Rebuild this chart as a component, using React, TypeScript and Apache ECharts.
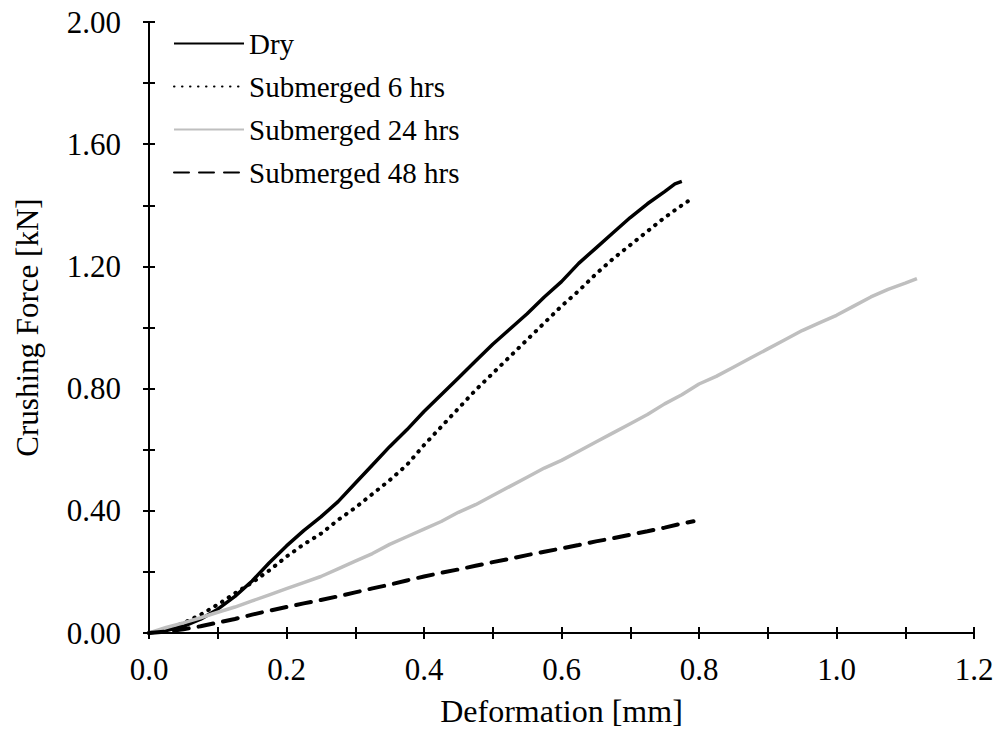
import React, { useEffect, useRef } from "react";
import * as echarts from "echarts";

const dryX = [0, 0.025, 0.05, 0.075, 0.1, 0.125, 0.15, 0.175, 0.2, 0.225, 0.25, 0.275, 0.3, 0.325, 0.35, 0.375, 0.4, 0.425, 0.45, 0.475, 0.5, 0.525, 0.55, 0.575, 0.6, 0.625, 0.65, 0.675, 0.7, 0.725, 0.75, 0.765, 0.775];
const dryY = [0, 0.008, 0.022, 0.045, 0.078, 0.12, 0.17, 0.23, 0.285, 0.335, 0.38, 0.43, 0.49, 0.55, 0.61, 0.665, 0.725, 0.78, 0.835, 0.89, 0.945, 0.995, 1.045, 1.1, 1.15, 1.21, 1.26, 1.31, 1.36, 1.405, 1.445, 1.47, 1.478];

const sub6X = [0, 0.025, 0.05, 0.075, 0.1, 0.125, 0.15, 0.175, 0.2, 0.225, 0.25, 0.275, 0.3, 0.325, 0.35, 0.375, 0.4, 0.425, 0.45, 0.475, 0.5, 0.525, 0.55, 0.575, 0.6, 0.625, 0.65, 0.675, 0.7, 0.725, 0.75, 0.775, 0.787];
const sub6Y = [0, 0.012, 0.032, 0.06, 0.093, 0.13, 0.165, 0.205, 0.25, 0.29, 0.325, 0.37, 0.41, 0.455, 0.5, 0.55, 0.615, 0.675, 0.735, 0.795, 0.85, 0.905, 0.96, 1.015, 1.07, 1.12, 1.175, 1.225, 1.27, 1.315, 1.36, 1.4, 1.418];

const sub24X = [0, 0.025, 0.05, 0.075, 0.1, 0.125, 0.15, 0.175, 0.2, 0.225, 0.25, 0.275, 0.3, 0.325, 0.35, 0.375, 0.4, 0.425, 0.45, 0.475, 0.5, 0.525, 0.55, 0.575, 0.6, 0.625, 0.65, 0.675, 0.7, 0.725, 0.75, 0.775, 0.8, 0.825, 0.85, 0.875, 0.9, 0.925, 0.95, 0.975, 1.0, 1.025, 1.05, 1.075, 1.1, 1.117];
const sub24Y = [0, 0.018, 0.033, 0.05, 0.068, 0.085, 0.105, 0.125, 0.145, 0.165, 0.185, 0.21, 0.235, 0.26, 0.29, 0.315, 0.34, 0.365, 0.395, 0.42, 0.45, 0.48, 0.51, 0.54, 0.565, 0.595, 0.625, 0.655, 0.685, 0.715, 0.75, 0.78, 0.815, 0.84, 0.87, 0.9, 0.93, 0.96, 0.99, 1.015, 1.04, 1.07, 1.1, 1.125, 1.145, 1.16];

const sub48X = [0, 0.025, 0.05, 0.075, 0.1, 0.125, 0.15, 0.175, 0.2, 0.225, 0.25, 0.275, 0.3, 0.325, 0.35, 0.375, 0.4, 0.425, 0.45, 0.475, 0.5, 0.525, 0.55, 0.575, 0.6, 0.625, 0.65, 0.675, 0.7, 0.725, 0.75, 0.775, 0.792];
const sub48Y = [0, 0.005, 0.012, 0.022, 0.034, 0.046, 0.06, 0.073, 0.085, 0.097, 0.108, 0.12, 0.133, 0.146, 0.158, 0.172, 0.185, 0.197, 0.208, 0.22, 0.232, 0.243, 0.255, 0.266, 0.277, 0.288, 0.3, 0.31, 0.322, 0.333, 0.345, 0.358, 0.366];

const seriesNames = ["Dry", "Submerged 6 hrs", "Submerged 24 hrs", "Submerged 48 hrs"];

const zip = (xs: number[], ys: number[]) => xs.map((x, i) => [x, ys[i]]);

const FONT = "Liberation Serif, Times New Roman, serif";

export default function App() {
  const ref = useRef<HTMLDivElement>(null);
  useEffect(() => {
    if (!ref.current) return;
    const chart = echarts.init(ref.current, undefined, { renderer: "svg" });
    const axisLine = { show: true, lineStyle: { color: "#000", width: 2 } };
    const tick = { show: true, inside: true, length: 6, lineStyle: { color: "#000", width: 2 } };
    const minor = { show: true, splitNumber: 2, length: 6, lineStyle: { color: "#000", width: 2 } };
    chart.setOption({
      animation: false,
      backgroundColor: "#fff",
      grid: { left: 149, right: 26, top: 22, bottom: 98, containLabel: false },
      legend: {
        orient: "vertical",
        left: 168,
        top: 24,
        itemWidth: 70,
        itemHeight: 14,
        itemGap: 14,
        data: seriesNames,
        itemStyle: { color: "rgba(0,0,0,0)", borderWidth: 0, opacity: 0 },
        textStyle: { fontFamily: FONT, fontSize: 29, color: "#000" },
      },
      xAxis: [
        {
          type: "value",
          min: 0,
          max: 1.2,
          interval: 0.2,
          name: "Deformation [mm]",
          nameLocation: "middle",
          nameGap: 62,
          nameTextStyle: { fontFamily: FONT, fontSize: 32, color: "#000" },
          axisLine,
          axisTick: tick,
          minorTick: minor,
          splitLine: { show: false },
          axisLabel: { fontFamily: FONT, fontSize: 31, color: "#000", margin: 21, formatter: (v: number) => v.toFixed(1) },
        },
        {
          type: "value",
          position: "top",
          min: 0,
          max: 1.2,
          interval: 0.2,
          axisLine,
          axisTick: tick,
          minorTick: minor,
          splitLine: { show: false },
          axisLabel: { show: false },
        },
      ],
      yAxis: [
        {
          type: "value",
          min: 0,
          max: 2,
          interval: 0.4,
          name: "Crushing Force [kN]",
          nameLocation: "middle",
          nameGap: 106,
          nameTextStyle: { fontFamily: FONT, fontSize: 31, color: "#000" },
          axisLine,
          axisTick: tick,
          minorTick: minor,
          splitLine: { show: false },
          axisLabel: { fontFamily: FONT, fontSize: 31, color: "#000", margin: 28, formatter: (v: number) => v.toFixed(2) },
        },
        {
          type: "value",
          position: "right",
          min: 0,
          max: 2,
          interval: 0.4,
          axisLine,
          axisTick: tick,
          minorTick: minor,
          splitLine: { show: false },
          axisLabel: { show: false },
        },
      ],
      series: [
        {
          name: seriesNames[0],
          type: "line",
          data: zip(dryX, dryY),
          showSymbol: false,
          symbol: "none",
          lineStyle: { color: "#000", width: 3.5 },
          itemStyle: { color: "#000" },
        },
        {
          name: seriesNames[1],
          type: "line",
          data: zip(sub6X, sub6Y),
          showSymbol: false,
          symbol: "none",
          lineStyle: { color: "#000", width: 4, type: [0.5, 7.5], cap: "round" },
          itemStyle: { color: "#000" },
        },
        {
          name: seriesNames[2],
          type: "line",
          data: zip(sub24X, sub24Y),
          showSymbol: false,
          symbol: "none",
          lineStyle: { color: "#bfbfbf", width: 3.5 },
          itemStyle: { color: "#bfbfbf" },
        },
        {
          name: seriesNames[3],
          type: "line",
          data: zip(sub48X, sub48Y),
          showSymbol: false,
          symbol: "none",
          lineStyle: { color: "#000", width: 4, type: [15, 10], cap: "round" },
          itemStyle: { color: "#000" },
        },
      ],
    });
    return () => chart.dispose();
  }, []);
  return <div ref={ref} style={{ width: 1000, height: 732, position: "absolute", left: 0, top: 0 }} />;
}
